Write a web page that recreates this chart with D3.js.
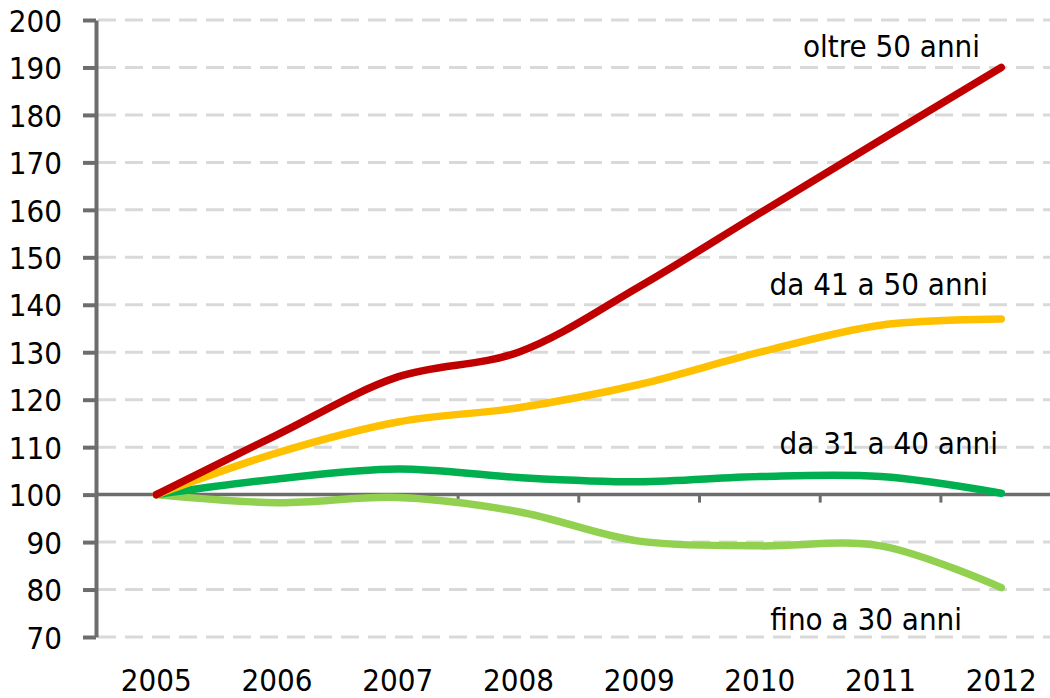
<!DOCTYPE html>
<html>
<head>
<meta charset="utf-8">
<script src="https://cdn.jsdelivr.net/npm/d3@7"></script>
<style>
  body { margin: 0; background: #fff; }
  svg text { font-family: "DejaVu Sans Condensed", "DejaVu Sans", sans-serif; fill: #000; }
</style>
</head>
<body>
<div id="chart"></div>
<script>
// anni sull'asse x
const years = ['2005', '2006', '2007', '2008', '2009', '2010', '2011', '2012'];

// serie (indice 2005 = 100)
const fino30 = [100, 98.3, 99.4, 96.4, 90.2, 89.2, 89.2, 80.4];
const da31a40 = [100, 103.3, 105.4, 103.6, 102.7, 103.8, 103.8, 100.3];
const da41a50 = [100, 108.8, 115.3, 118.3, 123.2, 130.0, 135.7, 137.0];
const oltre50 = [100, 112.6, 124.8, 130.0, 143.8, 159.3, 174.7, 190.0];

const seriesNames = ['fino a 30 anni', 'da 31 a 40 anni', 'da 41 a 50 anni', 'oltre 50 anni'];
const seriesColors = ['#92d050', '#00b050', '#ffc000', '#c00000'];

// tick asse y
const yTicks = [70, 80, 90, 100, 110, 120, 130, 140, 150, 160, 170, 180, 190, 200];

const allSeries = [fino30, da31a40, da41a50, oltre50];

const width = 1050, height = 698;
const svg = d3.select('#chart').append('svg')
  .attr('width', width)
  .attr('height', height);

const y = d3.scaleLinear()
  .domain([70, 200])
  .range([637, 20]);

const x = d3.scaleBand()
  .domain(years)
  .range([96, 96 + 8 * 120.7])
  .padding(0);

const cx = d => x(d) + x.bandwidth() / 2;

// griglia tratteggiata
svg.append('g')
  .selectAll('line')
  .data(yTicks.filter(d => d !== 100))
  .enter()
  .append('line')
    .attr('x1', 98)
    .attr('x2', width)
    .attr('y1', d => y(d))
    .attr('y2', d => y(d))
    .attr('stroke', '#d9d9d9')
    .attr('stroke-width', 3)
    .attr('stroke-dasharray', '18 9');

// asse y
const yAxis = d3.axisLeft(y)
  .tickValues(yTicks)
  .tickSize(13)
  .tickPadding(21)
  .tickSizeOuter(0);

const gy = svg.append('g')
  .attr('transform', 'translate(96,0)')
  .call(yAxis);
gy.select('.domain').attr('stroke', '#6d6d6d').attr('stroke-width', 4);
gy.selectAll('.tick line').attr('stroke', '#6d6d6d').attr('stroke-width', 4);
gy.selectAll('.tick text').style('font-size', '31px').attr('dy', '0.36em');

// asse x sulla linea 100
svg.append('line')
  .attr('x1', 96)
  .attr('x2', width)
  .attr('y1', y(100))
  .attr('y2', y(100))
  .attr('stroke', '#6d6d6d')
  .attr('stroke-width', 3.5);

svg.append('g')
  .selectAll('line')
  .data(years.slice(1))
  .enter()
  .append('line')
    .attr('x1', d => x(d))
    .attr('x2', d => x(d))
    .attr('y1', y(100))
    .attr('y2', y(100) + 8)
    .attr('stroke', '#6d6d6d')
    .attr('stroke-width', 3);

svg.append('g')
  .selectAll('text')
  .data(years)
  .enter()
  .append('text')
    .attr('x', d => cx(d))
    .attr('y', 691)
    .attr('text-anchor', 'middle')
    .style('font-size', '31px')
    .text(d => d);

// linee
const line = d3.line()
  .x((d, i) => cx(years[i]))
  .y(d => y(d))
  .curve(d3.curveCatmullRom.alpha(0.5));

svg.append('g')
  .selectAll('path')
  .data(allSeries)
  .enter()
  .append('path')
    .attr('d', d => line(d))
    .attr('fill', 'none')
    .attr('stroke', (d, i) => seriesColors[i])
    .attr('stroke-width', 7.5)
    .attr('stroke-linecap', 'round')
    .attr('stroke-linejoin', 'round');

// etichette
const labelPos = [
  { x: 962, y: 630 },
  { x: 998, y: 454 },
  { x: 988, y: 295 },
  { x: 980, y: 57 },
];

svg.append('g')
  .selectAll('text')
  .data(seriesNames)
  .enter()
  .append('text')
    .attr('x', (d, i) => labelPos[i].x)
    .attr('y', (d, i) => labelPos[i].y)
    .attr('text-anchor', 'end')
    .style('font-size', '31px')
    .text(d => d);
</script>
</body>
</html>
